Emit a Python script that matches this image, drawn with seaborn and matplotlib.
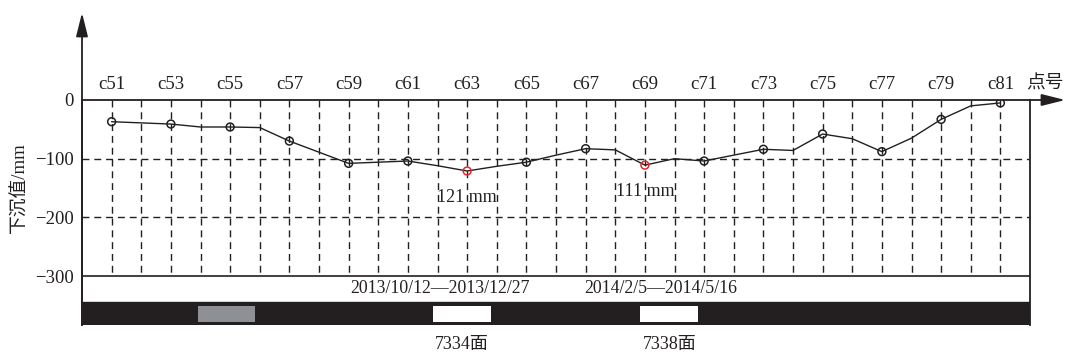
import numpy as np
import pandas as pd
import matplotlib
matplotlib.use("Agg")
import matplotlib.pyplot as plt
from matplotlib.patches import Rectangle
import seaborn as sns

# Survey stations c51..c81 and measured settlement (mm)
stations = list(range(51, 82))
settlement = [-37, -39, -41, -46, -46, -47, -70, -89, -108, -106, -104,
              -112, -121, -113, -106, -94, -83, -85, -111, -100, -104,
              -94, -84, -86, -58, -66, -88, -65, -33, -10, -5]
y_ticks = [0, -100, -200, -300]
labelled_stations = list(range(51, 82, 2))
peak_stations = [63, 69]
peak_labels = ["121 mm", "111 mm"]

# Working-face strip: (start station, end station, colour, label)
faces = [(53.9, 55.85, "#8e9095", None), (61.85, 63.8, "white", "7334面"),
         (68.85, 70.8, "white", "7338面")]
periods = [("2013/10/12—2013/12/27", 62.1), ("2014/2/5—2014/5/16", 69.55)]

sns.set_theme(style="white")
plt.rcParams["font.family"] = ["Liberation Serif", "Noto Sans CJK SC"]
plt.rcParams["axes.unicode_minus"] = True

df = pd.DataFrame({"station": stations, "settlement": settlement})
marks = df[df["station"].isin(labelled_stations)].copy()
marks["peak"] = marks["station"].isin(peak_stations)

W, H = 1069, 358
fig = plt.figure(figsize=(W / 100, H / 100), dpi=100)
ax = fig.add_axes([82 / W, 1 - 325 / H, (1030 - 82) / W, (325 - 100) / H])

ymin = -383.5
ax.set_xlim(50, 82)
ax.set_ylim(ymin, 0)

ink = "#231f20"
red = "#e8242b"
dash = dict(color=ink, lw=1.0, ls=(0, (5, 3.5)))

# grid: vertical lines at each station, horizontal at -100 and -200
for s in stations:
    ax.plot([s, s], [0, -300], **dash, zorder=1)
for yv in (-100, -200):
    ax.plot([50, 82], [yv, yv], **dash, zorder=1)

# settlement curve and hollow markers
sns.lineplot(data=df, x="station", y="settlement", ax=ax, color=ink, lw=1.0,
             zorder=3, legend=False)
sns.scatterplot(data=marks, x="station", y="settlement", ax=ax,
                s=32, marker="o", linewidth=1.1, legend=False, zorder=4)
pts = ax.collections[-1]
pts.set_facecolor("none")
pts.set_edgecolor([red if p else ink for p in marks["peak"]])

for s, lab in zip(peak_stations, peak_labels):
    yv = df.loc[df["station"] == s, "settlement"].iloc[0]
    ax.text(s, yv - 45, lab, ha="center", va="center", fontsize=13, color=ink)

# station labels above the axis
for s in labelled_stations:
    ax.text(s, 27, f"c{s}", ha="center", va="center", fontsize=13.5,
            color=ink, clip_on=False)
ax.text(82.5, 27, "点号", ha="center", va="center", fontsize=13.5,
        color=ink, clip_on=False)

# strip under the plot: period band and working-face bar
ax.plot([50, 82], [-300, -300], color=ink, lw=1.2)
bar_top = -344
ax.add_patch(Rectangle((50, ymin), 32, bar_top - ymin, facecolor=ink,
                       edgecolor=ink, lw=1, zorder=2))
for x0, x1, c, lab in faces:
    ax.add_patch(Rectangle((x0, -378), x1 - x0, 27, facecolor=c,
                           edgecolor="none", zorder=3))
    if lab:
        ax.text((x0 + x1) / 2, ymin - 34, lab, ha="center", va="center",
                fontsize=13, color=ink, clip_on=False)
for txt, xc in periods:
    ax.text(xc, -322, txt, ha="center", va="center", fontsize=12.8, color=ink)

# axes frame
for sp in ["top", "bottom"]:
    ax.spines[sp].set_visible(False)
for sp in ["left", "right"]:
    ax.spines[sp].set_color(ink)
    ax.spines[sp].set_linewidth(1.3)

# axis arrows
fig.add_artist(plt.Line2D([82 / W, 1052 / W], [1 - 100 / H] * 2, color=ink, lw=1.3))
ax.annotate("", xy=(1068 / W, 1 - 100 / H), xytext=(1048 / W, 1 - 100 / H),
            xycoords="figure fraction",
            arrowprops=dict(arrowstyle="-|>,head_length=1.2,head_width=0.3",
                            color=ink, lw=1.3))
fig.add_artist(plt.Line2D([82 / W] * 2, [1 - 325 / H, 1 - 28 / H], color=ink, lw=1.3))
ax.annotate("", xy=(82 / W, 1 - 10 / H), xytext=(82 / W, 1 - 32 / H),
            xycoords="figure fraction",
            arrowprops=dict(arrowstyle="-|>,head_length=1.2,head_width=0.3",
                            color=ink, lw=1.3))

ax.set_xticks([])
ax.set_yticks(y_ticks)
ax.set_yticklabels(["0" if v == 0 else f"\u2212{abs(v)}" for v in y_ticks],
                   fontsize=13.5, color=ink)
ax.tick_params(axis="y", length=0, pad=6)
ax.set_xlabel("")
ax.set_ylabel("")
fig.text(20 / W, 1 - 188 / H, "下沉值/mm", rotation=90, ha="center",
         va="center", fontsize=13.5, color=ink)

fig.savefig("out.png", dpi=100)
